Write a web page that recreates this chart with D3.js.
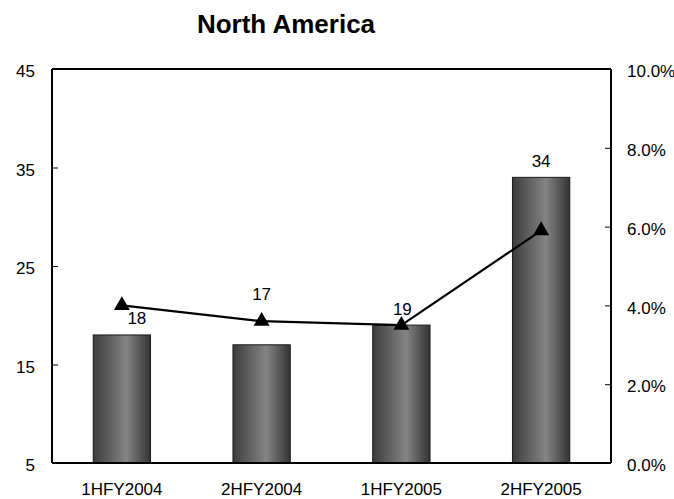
<!DOCTYPE html>
<html>
<head>
<meta charset="utf-8">
<script src="https://cdn.jsdelivr.net/npm/d3@7"></script>
<style>
  body { margin: 0; background: #fff; }
  text { font-family: "Liberation Sans", Arial, sans-serif; fill: #000; }
</style>
</head>
<body>
<div id="chart"></div>
<script>
// Chart data
var categories = ["1HFY2004", "2HFY2004", "1HFY2005", "2HFY2005"];
var barValues = [18, 17, 19, 34];
var lineValues = [0.040, 0.036, 0.035, 0.059];
var leftTicks = [5, 15, 25, 35, 45];
var rightTicks = [0, 0.02, 0.04, 0.06, 0.08, 0.10];

var svgWidth = 674;
var svgHeight = 499;

var margin = { top: 69, right: 63, bottom: 36, left: 52 };
var chartWidth = svgWidth - margin.left - margin.right;
var chartHeight = svgHeight - margin.top - margin.bottom;

var svg = d3.select("#chart")
    .append("svg")
    .attr("width", svgWidth)
    .attr("height", svgHeight);

// bar gradient: dark edges, lighter band just right of centre
var defs = svg.append("defs");
var grad = defs.append("linearGradient")
    .attr("id", "barGrad")
    .attr("x1", "0%").attr("x2", "100%")
    .attr("y1", "0%").attr("y2", "0%");
grad.append("stop").attr("offset", "0%").attr("stop-color", "#3c3c3c");
grad.append("stop").attr("offset", "58%").attr("stop-color", "#848484");
grad.append("stop").attr("offset", "100%").attr("stop-color", "#333333");

svg.append("text")
    .attr("x", 286)
    .attr("y", 33)
    .attr("text-anchor", "middle")
    .style("font-size", "26px")
    .style("font-weight", "bold")
    .text("North America");

var chartGroup = svg.append("g")
    .attr("transform", `translate(${margin.left}, ${margin.top})`);

var xBand = d3.scaleBand()
    .domain(categories)
    .range([0, chartWidth])
    .paddingInner(0.59)
    .paddingOuter(0.295);

var yLeft = d3.scaleLinear()
    .domain([5, 45])
    .range([chartHeight, 0]);

var yRight = d3.scaleLinear()
    .domain([0, 0.10])
    .range([chartHeight, 0]);

// bars
chartGroup.selectAll("rect.bar")
    .data(barValues)
    .enter().append("rect")
    .attr("class", "bar")
    .attr("x", (d, i) => xBand(categories[i]))
    .attr("y", d => yLeft(d))
    .attr("width", xBand.bandwidth())
    .attr("height", d => chartHeight - yLeft(d))
    .attr("fill", "url(#barGrad)")
    .attr("stroke", "#1a1a1a")
    .attr("stroke-width", 1);

// bar value labels (some nudged to clear the line, as in the original)
var labelNudge = [[15, -11], [0, -45], [1, -10], [0, -10]];
chartGroup.selectAll("text.val")
    .data(barValues)
    .enter().append("text")
    .attr("class", "val")
    .attr("x", (d, i) => xBand(categories[i]) + xBand.bandwidth() / 2 + labelNudge[i][0])
    .attr("y", d => yLeft(d))
    .attr("dy", (d, i) => labelNudge[i][1])
    .attr("text-anchor", "middle")
    .style("font-size", "17px")
    .text(d => d);

// line on the right axis
var line = d3.line()
    .x((d, i) => xBand(categories[i]) + xBand.bandwidth() / 2)
    .y(d => yRight(d));

chartGroup.append("path")
    .datum(lineValues)
    .attr("d", line)
    .attr("fill", "none")
    .attr("stroke", "#000")
    .attr("stroke-width", 2.2);

var tri = d3.symbol().type(d3.symbolTriangle).size(110);
chartGroup.selectAll("path.marker")
    .data(lineValues)
    .enter().append("path")
    .attr("class", "marker")
    .attr("d", tri)
    .attr("transform", (d, i) =>
        `translate(${xBand(categories[i]) + xBand.bandwidth() / 2}, ${yRight(d)})`)
    .attr("fill", "#000");

// axes
var leftAxis = d3.axisLeft(yLeft).tickValues(leftTicks).tickSize(-6).tickPadding(17);
var rightAxis = d3.axisRight(yRight).tickValues(rightTicks).tickSize(-6).tickPadding(16)
    .tickFormat(d3.format(".1%"));
var bottomAxis = d3.axisBottom(xBand).tickSize(0).tickPadding(20);

var gl = chartGroup.append("g").call(leftAxis);
var gr = chartGroup.append("g")
    .attr("transform", `translate(${chartWidth}, 0)`)
    .call(rightAxis);
var gb = chartGroup.append("g")
    .attr("transform", `translate(0, ${chartHeight})`)
    .call(bottomAxis);

// top border of the plot
chartGroup.append("line")
    .attr("x1", 0).attr("x2", chartWidth)
    .attr("y1", 0).attr("y2", 0)
    .attr("stroke", "#000")
    .attr("stroke-width", 2);

[gl, gr, gb].forEach(function(g) {
    g.select(".domain").attr("stroke", "#000").attr("stroke-width", 2);
    g.selectAll(".tick line").attr("stroke", "#000");
    g.selectAll(".tick text")
        .style("font-size", "17px")
        .style("font-family", "'Liberation Sans', Arial, sans-serif");
});
gl.select(".domain").attr("d", `M0,${chartHeight}V0`);
gr.select(".domain").attr("d", `M0,${chartHeight}V0`);
gb.select(".domain").attr("d", `M0,0H${chartWidth}`);
gl.selectAll(".tick text").attr("dy", "0.45em");
gr.selectAll(".tick text").attr("dy", "0.45em");
</script>
</body>
</html>
